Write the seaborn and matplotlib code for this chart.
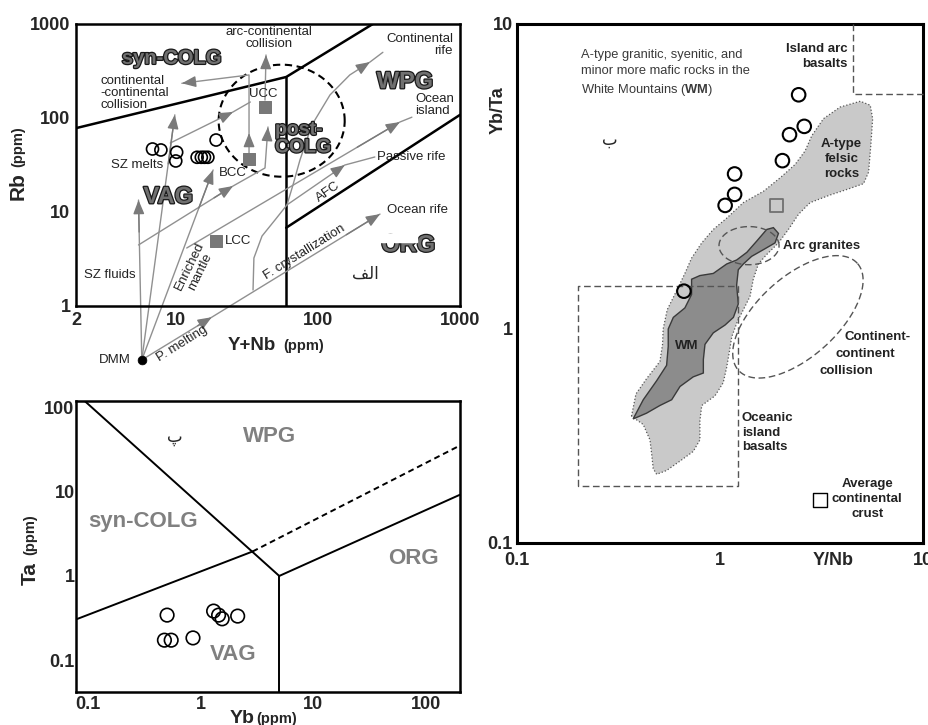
import numpy as np
import matplotlib
matplotlib.use("Agg")
import matplotlib.pyplot as plt
import matplotlib.patheffects as pe
from matplotlib.patches import Rectangle
from matplotlib.ticker import NullLocator, NullFormatter
import seaborn as sns

sns.set_style("white")
plt.rcParams["font.family"] = ["Liberation Sans", "DejaVu Sans"]
plt.rcParams["mathtext.fontset"] = "custom"
plt.rcParams["mathtext.rm"] = "Liberation Sans"
plt.rcParams["mathtext.bf"] = "Liberation Sans:bold"

# ---------------- panel (alef): Rb vs Y+Nb ----------------
samples_ynb = [6.9, 7.9, 10.2, 10.05, 14.2, 15.2, 16.0, 16.9, 19.3]
samples_rb = [46.8, 45.7, 43.2, 34.9, 38.2, 38.2, 38.2, 38.2, 58.3]
crust_ynb = [42.6, 32.9, 19.3]      # UCC, BCC, LCC
crust_rb = [132, 36.6, 4.9]
dmm_ynb = [5.8]
dmm_rb = [0.267]

syncolg_x = [2, 60, 244]
syncolg_y = [78, 273, 1000]
vert_x = [60, 60]
vert_y = [1, 273]
org_x = [60, 1000]
org_y = [6.8, 108]
postcolg_centre = (55.8, 93.6)
postcolg_radius = (0.443, 0.596)    # decades in x, y

# trend lines: x, y, vertices carrying an arrow head, starts at DMM
sz_fluids = ([5.8, 5.5], [0.267, 13.4], [1], True)
sz_melts = ([5.8, 9.9], [0.267, 108], [1], True)
enriched = ([5.8, 18.4], [0.267, 28], [1], True)
p_melting = ([5.8, 18, 274], [0.267, 0.76, 9.5], [1, 2], True)
to_bcc = ([5.5, 25.4, 42.6, 44.7], [4.46, 18.9, 29.4, 80.2], [1, 3], False)
to_ucc = ([9.2, 25.4, 33.6], [54.2, 116, 148], [1], False)
bcc_up = ([32.9, 32.9, 32.9, 11.1], [36.6, 69.2, 287, 234], [1, 3], False)
arc_cont = ([42.6, 43.3], [155, 468], [1], False)
ocean_island = ([12.0, 378, 459], [4.14, 90.6, 102], [1], False)
passive = ([60.8, 155, 252], [11.9, 31.6, 38.5], [1], False)
cont_rift = ([35.1, 35.6, 40.6, 50, 60.8, 67, 75, 91, 122, 168, 233, 287],
             [1.48, 3.24, 5.55, 8.2, 11.9, 19.4, 35.7, 84.3, 176, 287, 394, 500],
             [10], False)
trends = [sz_fluids, sz_melts, enriched, p_melting, to_bcc, to_ucc, bcc_up,
          arc_cont, ocean_island, passive, cont_rift]

# ---------------- panel (pe): Ta vs Yb ----------------
ta_yb = [0.507, 0.48, 0.551, 0.86, 1.31, 1.45, 1.56, 2.14]
ta_ta = [0.343, 0.173, 0.173, 0.184, 0.383, 0.343, 0.31, 0.334]
wpg_syn_x, wpg_syn_y = [0.093, 5], [121, 1]
vag_syn_x, vag_syn_y = [0.079, 2.9], [0.305, 1.95]
dash_x, dash_y = [2.9, 200], [1.95, 35.3]
vag_org_x, vag_org_y = [5, 5], [0.01, 1]
org_wpg_x, org_wpg_y = [5, 200], [1, 9.2]

# ---------------- panel (be): Yb/Ta vs Y/Nb ----------------
wm_ynb = [2.44, 2.60, 2.20, 2.03, 1.18, 1.18, 1.06, 0.664]
wm_ybta = [5.85, 4.61, 4.33, 3.56, 3.22, 2.76, 2.54, 1.33]
avg_sq_ynb, avg_sq_ybta = [1.905], [2.54]
crust_sq_ynb, crust_sq_ybta = [3.11], [0.158]

atype_lx = [-.436, -.414, -.362, -.296, -.283, -.280, -.260, -.214, -.173, -.140,
            -.090, -.033, .033, .115, .214, .296, .370, .419, .452, .510, .592,
            .691, .740, .752, .743, .732, .707, .625, .543, .444, .387, .337,
            .288, .230, .189, .164, .148, .115, .086, .058, .046, .033, .016,
            -.025, -.090, -.099, -.099, -.132, -.197, -.263, -.312, -.329,
            -.337, -.345, -.378]
atype_ly = [-.408, -.304, -.233, -.152, -.072, 0, .063, .125, .182, .232, .282,
            .326, .363, .414, .451, .495, .539, .583, .633, .689, .727, .746,
            .733, .689, .602, .514, .476, .457, .439, .414, .376, .326, .282,
            .244, .213, .163, .107, .063, .025, -.036, -.107, -.179, -.251,
            -.313, -.358, -.430, -.519, -.573, -.618, -.662, -.680, -.653,
            -.582, -.519, -.447]
wmfield_lx = [-.428, -.378, -.312, -.263, -.255, -.255, -.230, -.173, -.140,
              -.140, -.099, -.033, .033, .082, .132, .181, .230, .263, .288,
              .271, .222, .156, .115, .090, .082, .090, .066, .025, -.033,
              -.074, -.082, -.082, -.132, -.197, -.238, -.296, -.362]
wmfield_ly = [-.421, -.331, -.242, -.170, -.081, 0, .038, .069, .113, .163,
              .175, .182, .213, .226, .251, .288, .326, .332, .313, .282, .263,
              .238, .213, .194, .144, .082, .038, .013, -.018, -.072, -.143,
              -.206, -.224, -.269, -.331, -.358, -.394]
oib_x = [0.2, 0.2, 1.22, 1.22, 0.2]
oib_y = [0.185, 1.38, 1.38, 0.185, 0.185]
iab_x = [4.5, 4.5, 10]
iab_y = [10, 5.9, 5.9]
arc_ell = (1.39, 1.875, 0.148, 0.094, 0)        # centre, semi-axes, angle
coll_ell = (2.42, 1.096, 0.394, 0.197, 42)

W, H = 929, 725
fig = plt.figure(figsize=(W / 100, H / 100), dpi=100)


def put(x, y, s, **kw):
    return fig.text(x / W, 1 - y / H, s, **kw)


def heads(ax, xs, ys, idx, color):
    for i in idx:
        lx0, ly0 = np.log10(xs[i - 1]), np.log10(ys[i - 1])
        lx1, ly1 = np.log10(xs[i]), np.log10(ys[i])
        tail = (10 ** (lx1 - 0.2 * (lx1 - lx0)), 10 ** (ly1 - 0.2 * (ly1 - ly0)))
        ax.annotate("", xy=(xs[i], ys[i]), xytext=tail, annotation_clip=False,
                    arrowprops=dict(arrowstyle="-|>,head_length=0.7,head_width=0.28",
                                    color=color, lw=1.0, shrinkA=0, shrinkB=0,
                                    mutation_scale=12))


def style_axis(ax, lw):
    for s in ax.spines.values():
        s.set_color("black")
        s.set_linewidth(lw)


# ---------- axes (alef) ----------
ax_a = fig.add_axes([76 / W, 1 - 306 / H, 384 / W, 282 / H])
ax_a.set_xscale("log")
ax_a.set_yscale("log")
ax_a.set_xlim(2, 1000)
ax_a.set_ylim(1, 1000)
for xs, ys in [(syncolg_x, syncolg_y), (vert_x, vert_y), (org_x, org_y)]:
    ax_a.plot(xs, ys, color="black", lw=1.8)
t = np.linspace(0, 2 * np.pi, 200)
ax_a.plot(10 ** (np.log10(postcolg_centre[0]) + postcolg_radius[0] * np.cos(t)),
          10 ** (np.log10(postcolg_centre[1]) + postcolg_radius[1] * np.sin(t)),
          color="black", lw=1.5, ls="--", dashes=(3.5, 2.2))
for xs, ys, idx, from_dmm in trends:
    ax_a.plot(xs, ys, color="#909090", lw=1.0, clip_on=not from_dmm)
    heads(ax_a, xs, ys, idx, "#7a7a7a")
sns.scatterplot(x=samples_ynb, y=samples_rb, ax=ax_a, marker="o", s=75,
                facecolors="none", edgecolor="black", linewidth=1.2, zorder=5)
sns.scatterplot(x=crust_ynb, y=crust_rb, ax=ax_a, marker="s", s=80,
                color="#787878", edgecolor="#787878", zorder=5)
sns.scatterplot(x=dmm_ynb, y=dmm_rb, ax=ax_a, s=40, color="black",
                edgecolor="black", clip_on=False, zorder=6)
ax_a.set_xticks([2, 10, 100, 1000], ["2", "10", "100", "1000"],
                fontweight="bold", fontsize=13)
ax_a.set_yticks([1, 10, 100, 1000], ["1", "10", "100", "1000"],
                fontweight="bold", fontsize=13)
ax_a.xaxis.set_minor_locator(NullLocator())
ax_a.yaxis.set_minor_locator(NullLocator())
ax_a.tick_params(direction="in", length=9, width=1.6, pad=4)
ax_a.set_xlabel("")
ax_a.set_ylabel("")
style_axis(ax_a, 1.8)

emb = dict(fontweight="bold", color="#707070", ha="center", va="center",
           path_effects=[pe.withStroke(linewidth=1.8, foreground="#1a1a1a")])
small = dict(fontsize=9.5, color="#222222", va="center")
put(171.7, 58.3, "syn-COLG", fontsize=14.5, **emb)
put(168.3, 196.7, "VAG", fontsize=17, **emb)
put(405, 81.7, "WPG", fontsize=17, **emb)
put(408.3, 245, "ORG", fontsize=17, **emb)
put(275, 139, "post-\nCOLG", fontsize=14, linespacing=1.05, multialignment="left",
    **{k: v for k, v in emb.items() if k != "ha"}, ha="left")
fig.patches.append(Rectangle((380 / W, 1 - 241.5 / H), 37 / W, 8 / H,
                             transform=fig.transFigure, color="white", zorder=5))
put(100.7, 92.7, "continental\n-continental\ncollision", ha="left", linespacing=1.0, **small)
put(269.3, 38.3, "arc-continental\ncollision", ha="center", linespacing=1.0, **small)
put(249.3, 94.3, "UCC", ha="left", **small)
put(136.7, 165, "SZ melts", ha="center", **small)
put(219.3, 172.7, "BCC", ha="left", **small)
put(225, 240.7, "LCC", ha="left", **small)
put(110, 275, "SZ fluids", ha="center", **small)
put(195, 269, "Enriched\nmantle", ha="center", rotation=64, rotation_mode="anchor",
    linespacing=1.0, **small)
put(304, 252.3, "F. crystallization", ha="center", rotation=32, rotation_mode="anchor", **small)
put(181.7, 343.3, "P. melting", ha="center", rotation=32, rotation_mode="anchor", **small)
put(328.3, 191.7, "AFC", ha="center", rotation=35, rotation_mode="anchor", **small)
put(131, 360, "DMM", ha="right", **small)
put(453, 45, "Continental\nrife", ha="right", multialignment="right", linespacing=1.0, **small)
put(415, 105, "Ocean\nisland", ha="left", linespacing=1.0, **small)
put(376.7, 156.7, "Passive rife", ha="left", **small)
put(387.3, 210, "Ocean rife", ha="left", **small)
put(365, 273.3, "\ufed2\ufedf\ufe8d", ha="center", va="center", fontsize=12,
    family=["DejaVu Sans"])
put(18, 200, "Rb", rotation=90, rotation_mode="anchor", ha="left", va="center",
    fontsize=15, fontweight="bold")
put(18, 167, "(ppm)", rotation=90, rotation_mode="anchor", ha="left", va="center",
    fontsize=10.5, fontweight="bold")
put(228, 350, "Y+Nb", ha="left", va="baseline", fontsize=13.5, fontweight="bold")
put(283, 350, "(ppm)", ha="left", va="baseline", fontsize=10.5, fontweight="bold")

# ---------- axes (pe) ----------
ax_c = fig.add_axes([76 / W, 1 - 692 / H, 384 / W, 291 / H])
ax_c.set_xscale("log")
ax_c.set_yscale("log")
ax_c.set_xlim(0.079, 200)
ax_c.set_ylim(0.042, 119)
for xs, ys in [(wpg_syn_x, wpg_syn_y), (vag_syn_x, vag_syn_y),
               (vag_org_x, vag_org_y), (org_wpg_x, org_wpg_y)]:
    ax_c.plot(xs, ys, color="black", lw=1.4)
ax_c.plot(dash_x, dash_y, color="black", lw=1.4, ls="--", dashes=(3, 2))
sns.scatterplot(x=ta_yb, y=ta_ta, ax=ax_c, marker="o", s=95,
                facecolors="none", edgecolor="black", linewidth=1.2, zorder=5)
ax_c.set_xticks([0.1, 1, 10, 100], ["0.1", "1", "10", "100"],
                fontweight="bold", fontsize=13)
ax_c.set_yticks([0.1, 1, 10, 100], ["0.1", "1", "10", "100"],
                fontweight="bold", fontsize=13)
ax_c.xaxis.set_minor_locator(NullLocator())
ax_c.yaxis.set_minor_locator(NullLocator())
ax_c.tick_params(direction="in", length=9, width=1.6)
ax_c.tick_params(axis="x", pad=3)
ax_c.tick_params(axis="y", pad=1)
ax_c.set_xlabel("")
ax_c.set_ylabel("")
style_axis(ax_c, 1.8)
grey = dict(fontweight="bold", color="#808080", ha="center", va="center", fontsize=16)
put(270, 436.7, "WPG", **grey)
put(143.3, 521.7, "syn-COLG", **grey)
put(413.3, 558.3, "ORG", **grey)
put(233.3, 655, "VAG", **grey)
put(175, 436.7, "\u067e", ha="center", va="center", fontsize=12, family=["DejaVu Sans"])
put(30, 585, "Ta", rotation=90, rotation_mode="anchor", ha="left", va="center",
    fontsize=15, fontweight="bold")
put(30, 555, "(ppm)", rotation=90, rotation_mode="anchor", ha="left", va="center",
    fontsize=10.5, fontweight="bold")
put(230, 723, "Yb", ha="left", va="baseline", fontsize=14, fontweight="bold")
put(256.7, 723, "(ppm)", ha="left", va="baseline", fontsize=10.5, fontweight="bold")

# ---------- axes (be) ----------
LOWER = 0.70


def fwd(y):
    ly = np.log10(np.maximum(np.asarray(y, float), 1e-9))
    return np.where(ly >= 0, ly, ly * LOWER)


def inv(v):
    v = np.asarray(v, float)
    return np.where(v >= 0, 10.0 ** v, 10.0 ** (v / LOWER))


ax_b = fig.add_axes([517 / W, 1 - 542.7 / H, 406 / W, 519 / H])
ax_b.set_xscale("log")
ax_b.set_yscale("function", functions=(fwd, inv))
ax_b.set_xlim(0.1, 10)
ax_b.set_ylim(0.1, 10)
aspect = (406 / 2) / (519 / (1 + LOWER))


def ellipse(cx, cy, a, b, ang):
    tt = np.linspace(0, 2 * np.pi, 240)
    th = np.radians(ang)
    dx = a * np.cos(tt) * np.cos(th) - b * np.sin(tt) * np.sin(th)
    dy = a * np.cos(tt) * np.sin(th) + b * np.sin(tt) * np.cos(th)
    return 10 ** (np.log10(cx) + dx), inv(fwd(cy) + dy * aspect)


ax_b.fill(10 ** np.array(atype_lx), 10 ** np.array(atype_ly), facecolor="#c9c9c9",
          edgecolor="#555555", lw=0.9, ls=":", zorder=1)
ax_b.fill(10 ** np.array(wmfield_lx), 10 ** np.array(wmfield_ly), facecolor="#8c8c8c",
          edgecolor="#3a3a3a", lw=1.0, zorder=2)
dash_kw = dict(color="#555555", lw=1.0, ls="--", dashes=(4.8, 2.6), zorder=3)
ax_b.plot(oib_x, oib_y, **dash_kw)
ax_b.plot(iab_x, iab_y, clip_on=False, **dash_kw)
ax_b.plot(*ellipse(*arc_ell), **dash_kw)
ax_b.plot(*ellipse(*coll_ell), **dash_kw)
sns.scatterplot(x=wm_ynb, y=wm_ybta, ax=ax_b, marker="o", s=95,
                facecolors="none", edgecolor="black", linewidth=1.5, zorder=5)
sns.scatterplot(x=avg_sq_ynb, y=avg_sq_ybta, ax=ax_b, marker="s", s=90,
                facecolors="none", edgecolor="#707070", linewidth=1.3, zorder=5)
sns.scatterplot(x=crust_sq_ynb, y=crust_sq_ybta, ax=ax_b, marker="s", s=90,
                facecolors="white", edgecolor="black", linewidth=1.0, zorder=5)
ax_b.set_xticks([0.1, 1, 10], ["0.1", "1", "10"], fontweight="bold", fontsize=13)
ax_b.set_xticks([0.2, 0.3, 0.4, 0.5, 0.6, 0.7, 0.8, 0.9, 2, 3, 4, 5, 6, 7, 8, 9],
                minor=True)
ax_b.set_yticks([0.1, 1, 10], ["0.1", "1", "10"], fontweight="bold", fontsize=13)
ax_b.set_yticks([0.2, 0.3, 0.4, 0.5, 0.6, 0.7, 0.8, 0.9, 2, 3, 4, 5, 6, 7, 8, 9],
                minor=True)
ax_b.xaxis.set_minor_formatter(NullFormatter())
ax_b.yaxis.set_minor_formatter(NullFormatter())
ax_b.tick_params(which="major", direction="in", length=9, width=1.6)
ax_b.tick_params(which="minor", direction="in", length=6.5, width=1.4)
ax_b.tick_params(axis="x", which="both", pad=7)
ax_b.tick_params(axis="y", which="both", pad=3)
ax_b.set_xlabel("")
ax_b.set_ylabel("")
style_axis(ax_b, 2.2)

bold = dict(fontweight="bold", fontsize=9.5, color="#222222", va="center")
put(580.7, 73.5, "A-type granitic, syenitic, and\nminor more mafic rocks in the\n"
    "White Mountains ($\\mathbf{WM}$)", ha="left", va="center", fontsize=9.3,
    color="#3a3a3a", linespacing=1.45)
put(848, 56.4, "Island arc\nbasalts", ha="right", multialignment="right",
    linespacing=1.3, **bold)
put(841.7, 159, "A-type\nfelsic\nrocks", ha="center", linespacing=1.33, **bold)
put(783.3, 246, "Arc granites", ha="left", **bold)
put(878, 336.8, "Continent-", ha="center", **bold)
put(865, 353.8, "continent", ha="center", **bold)
put(846, 371.5, "collision", ha="center", **bold)
put(741.7, 432.5, "Oceanic\nisland\nbasalts", ha="left", multialignment="left",
    linespacing=1.33, **bold)
put(867.3, 499.4, "Average\ncontinental\ncrust", ha="center", linespacing=1.33, **bold)
put(686.7, 345.6, "WM", ha="center", **bold)
put(610, 139.7, "\u0628", ha="center", va="center", fontsize=12, family=["DejaVu Sans"])
put(498.3, 110, "Yb/Ta", rotation=90, ha="center", va="center", fontsize=13,
    fontweight="bold")
put(833.3, 560.7, "Y/Nb", ha="center", va="center", fontsize=13, fontweight="bold")

fig.savefig("out.png", dpi=100)
